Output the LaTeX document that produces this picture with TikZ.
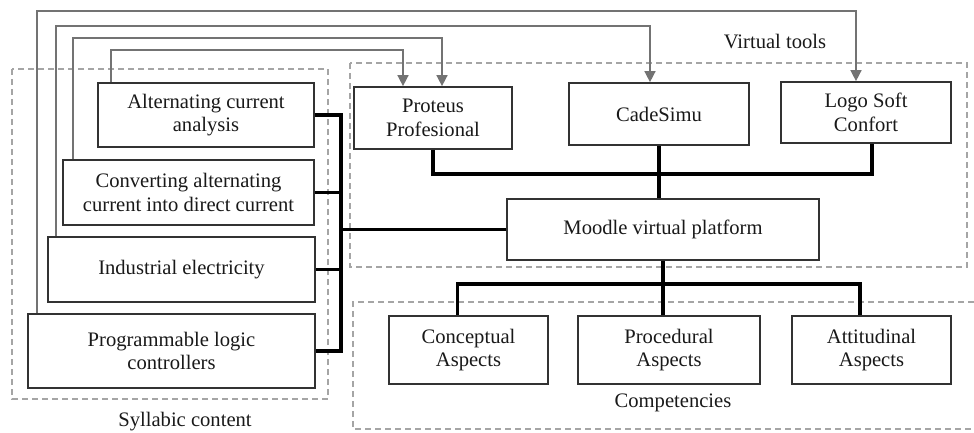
\documentclass[tikz,border=0pt]{standalone}
\usepackage{fontspec}
\setmainfont{Liberation Serif}
\usepackage{tikz}
\usetikzlibrary{arrows.meta, positioning, calc}
\definecolor{boxline}{RGB}{50,50,50}
\definecolor{backline}{RGB}{115,115,115}
\definecolor{groupline}{RGB}{165,165,165}

\begin{document}
\begin{tikzpicture}[
    x=0.5pt, y=-0.5pt,
    every node/.style={font=\fontsize{10.3}{11.7}\selectfont, text=black!90},
    sbox/.style={rectangle, draw=boxline, line width=0.85pt, fill=white, align=center, inner sep=0pt},
    bus/.style={line width=1.6pt, black},
    fback/.style={-{Triangle[width=5.5pt, length=5.5pt]}, draw=backline, line width=0.75pt},
    group/.style={draw=groupline, line width=0.6pt, dash pattern=on 3pt off 2pt},
]
\useasboundingbox (0,0) rectangle (974,433);

% Group frames
\draw[group] (12,69) rectangle (328,399);
\draw[group] (350,63) rectangle (967,267);
\draw[group] (974,302) -- (353,302) -- (353,429) -- (974,429);
\node (lsyl) at (185,422) {Syllabic content};
\node (lvirt) at (775,42) {Virtual tools};
\node (lcomp) at (673,403) {Competencies};

% Syllabic content
\node[sbox, minimum width=108pt, minimum height=32pt] (alt) at (206,115) {Alternating current\\analysis};
\node[sbox, minimum width=125.5pt, minimum height=32.5pt] (conv) at (188.5,192.5) {Converting alternating\\current into direct current};
\node[sbox, minimum width=133.5pt, minimum height=32.5pt] (ind) at (181.5,269.5) {Industrial electricity};
\node[sbox, minimum width=143.5pt, minimum height=37pt] (plc) at (171.5,351) {Programmable logic\\controllers};

% Virtual tools
\node[sbox, minimum width=79pt, minimum height=31pt] (proteus) at (433,118) {Proteus\\Profesional};
\node[sbox, minimum width=90pt, minimum height=31pt] (cade) at (659,114) {CadeSimu};
\node[sbox, minimum width=85pt, minimum height=30.5pt] (logo) at (866,112.5) {Logo Soft\\Confort};
\node[sbox, minimum width=156pt, minimum height=30.5pt] (moodle) at (663,229.5) {Moodle virtual platform};

% Competencies
\node[sbox, minimum width=79.5pt, minimum height=34pt] (concept) at (468.5,350) {Conceptual\\Aspects};
\node[sbox, minimum width=91pt, minimum height=34pt] (proc) at (669,350) {Procedural\\Aspects};
\node[sbox, minimum width=79.5pt, minimum height=34pt] (att) at (871.5,350) {Attitudinal\\Aspects};

% Bus lines
\coordinate (bb) at (341,351);
\draw[bus] (alt.east) -| (bb) -- (plc.east);
\draw[bus] (conv.east) -- (conv.east -| bb);
\draw[bus] (ind.east) -- (ind.east -| bb);
\draw[bus] (moodle.west) -- (moodle.west -| bb);

\coordinate (tj) at (0,174);
\draw[bus] (proteus.south) -- (proteus.south |- tj) -| ([xshift=3pt]logo.south);
\draw[bus] (cade.south) -- (cade.south |- moodle.north);

\coordinate (cj) at (0,284);
\draw[bus] (moodle.south) -- (moodle.south |- proc.north);
\draw[bus] ([xshift=-5.5pt]concept.north) |- ([xshift=-5.75pt]att.north |- cj) -- ([xshift=-5.75pt]att.north);

% Feedback arrows
\draw[fback] ([xshift=7pt]alt.north west) -- ++(0,-32) -| ([xshift=-15pt]proteus.north);
\draw[fback] ([xshift=5.5pt]conv.north west) -- ++(0,-121) -| ([xshift=4.5pt]proteus.north);
\draw[fback] ([xshift=4.5pt]ind.north west) -- ++(0,-210) -| ([xshift=-4.5pt]cade.north);
\draw[fback] ([xshift=5pt]plc.north west) -- ++(0,-302) -| ([xshift=-5pt]logo.north);

\end{tikzpicture}
\end{document}
